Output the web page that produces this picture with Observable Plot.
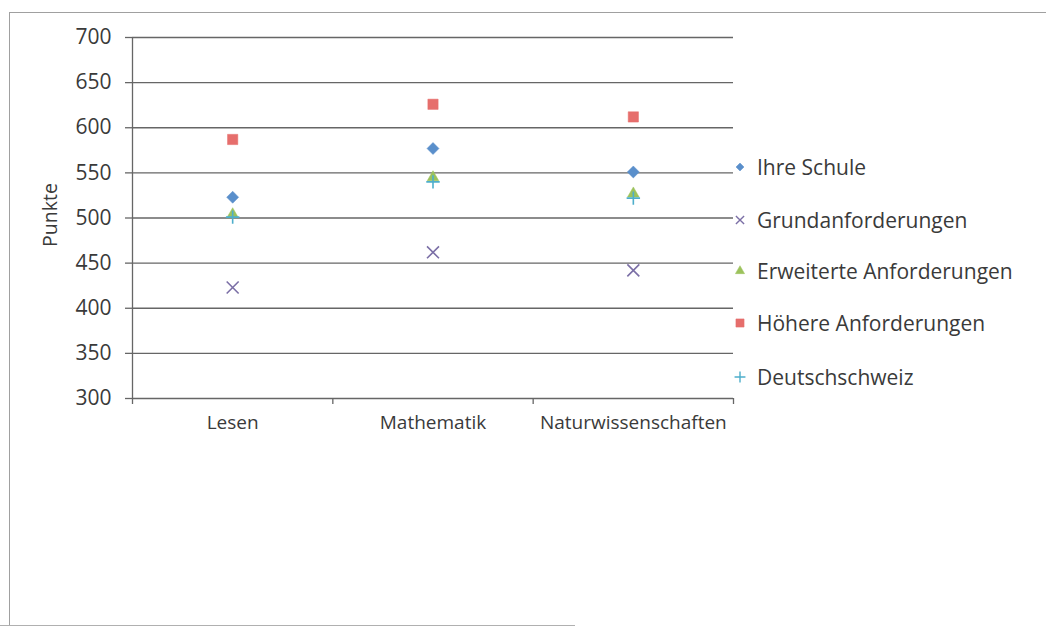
<!DOCTYPE html>
<html>
<head>
<meta charset="utf-8">
<script src="https://cdn.jsdelivr.net/npm/d3@7"></script>
<script src="https://cdn.jsdelivr.net/npm/@observablehq/plot@0.6"></script>
<style>
  html, body { margin: 0; padding: 0; background: #fff; }
  #wrap { position: relative; width: 1046px; height: 628px; overflow: hidden; font-family: "Open Sans", sans-serif; }
  #frame { position: absolute; left: 9px; top: 12px; width: 1100px; height: 613px; border-left: 1.5px solid #a0a0a0; border-top: 1.5px solid #a0a0a0; }
  #bottomline { position: absolute; left: 0; top: 625px; width: 575px; height: 0; border-top: 1.5px solid #b0b0b0; }
  #chart { position: absolute; left: 0; top: 0; }
  #legend { position: absolute; left: 731px; top: 0; }
  .item { position: absolute; left: 0; display: flex; align-items: center; white-space: nowrap; font-size: 21px; color: #3a3a3a; transform: translateY(-50%); }
  .item svg { width: 18px; height: 18px; margin-right: 8px; }
</style>
</head>
<body>
<div id="wrap">
  <div id="frame"></div>
  <div id="bottomline"></div>
  <div id="chart"></div>
  <div id="legend"></div>
</div>
<script>
const categories = ["Lesen", "Mathematik", "Naturwissenschaften"];
const seriesNames = ["Ihre Schule", "Grundanforderungen", "Erweiterte Anforderungen", "Höhere Anforderungen", "Deutschschweiz"];
const ihreSchule = [523, 577, 551];
const grundanforderungen = [423, 462, 442];
const erweiterteAnforderungen = [504, 545, 527];
const hoehereAnforderungen = [587, 626, 612];
const deutschschweiz = [501, 540, 522];
const yTicks = [300, 350, 400, 450, 500, 550, 600, 650, 700];

const seriesValues = [ihreSchule, grundanforderungen, erweiterteAnforderungen, hoehereAnforderungen, deutschschweiz];
const symbols = ["diamond2", "times", "triangle", "square", "plus"];
const colors = ["#5a8fcb", "#7b6fa6", "#9cc25c", "#e66e6c", "#4eaecb"];
const sizes = [5.4, 5.5, 4.3, 5.8, 4.4];
const legendSizes = [3.6, 3.8, 3.4, 4.6, 3.6];
const strokeOnly = [false, true, false, false, true];

const data = [];
seriesValues.forEach((vals, s) => vals.forEach((v, i) => data.push({series: s, cat: i, value: v})));

const font = "'Open Sans', sans-serif";
const gridColor = "#666";
const textColor = "#3a3a3a";

const marks = [
  Plot.ruleY(yTicks, {stroke: gridColor, strokeWidth: 1.3, strokeOpacity: 1}),
  Plot.axisY(yTicks, {tickSize: 7, tickPadding: 14, fontSize: 21, stroke: gridColor, strokeWidth: 1.3, strokeOpacity: 1, fill: textColor, label: null}),
  Plot.ruleX([0], {stroke: gridColor, strokeWidth: 1.3, strokeOpacity: 1}),
  Plot.axisX([0, 1, 2, 3], {tickSize: 6, tickFormat: () => "", stroke: gridColor, strokeWidth: 1.3, strokeOpacity: 1, label: null}),
  Plot.axisX([0.5, 1.5, 2.5], {tickSize: 0, tickPadding: 17, fontSize: 19, fill: textColor, tickFormat: d => categories[Math.floor(d)], label: null}),
  Plot.text(["Punkte"], {frameAnchor: "left", textAnchor: "middle", dx: -82, dy: -3, rotate: -90, fontSize: 19.5, fill: textColor})
];
seriesValues.forEach((vals, s) => {
  const rows = data.filter(d => d.series === s);
  marks.push(Plot.dot(rows, {
    x: d => d.cat + 0.5,
    y: "value",
    symbol: () => symbols[s],
    r: sizes[s],
    fill: strokeOnly[s] ? "none" : colors[s],
    stroke: colors[s],
    strokeWidth: strokeOnly[s] ? 1.6 : 0.5
  }));
});

const chart = Plot.plot({
  width: 1046,
  height: 628,
  marginLeft: 132,
  marginRight: 313,
  marginTop: 37,
  marginBottom: 230,
  x: {domain: [0, 3], axis: null},
  y: {domain: [300, 700], axis: null},
  symbol: {type: "identity"},
  style: {fontFamily: font, background: "transparent", overflow: "visible"},
  marks
});
document.getElementById("chart").appendChild(chart);

// Legend
const legendY = [167, 220, 271, 323, 377];
const legend = document.getElementById("legend");
const symMap = {diamond2: d3.symbolDiamond2, times: d3.symbolTimes, triangle: d3.symbolTriangle, square: d3.symbolSquare, plus: d3.symbolPlus};
seriesNames.forEach((name, s) => {
  const item = document.createElement("div");
  item.className = "item";
  item.style.top = legendY[s] + "px";
  const path = d3.symbol(symMap[symbols[s]], Math.PI * legendSizes[s] * legendSizes[s])();
  const fill = strokeOnly[s] ? "none" : colors[s];
  item.innerHTML = `<svg viewBox="-9 -9 18 18"><path d="${path}" fill="${fill}" stroke="${colors[s]}" stroke-width="${strokeOnly[s] ? 1.4 : 0.5}"/></svg><span>${name}</span>`;
  legend.appendChild(item);
});
</script>
</body>
</html>
